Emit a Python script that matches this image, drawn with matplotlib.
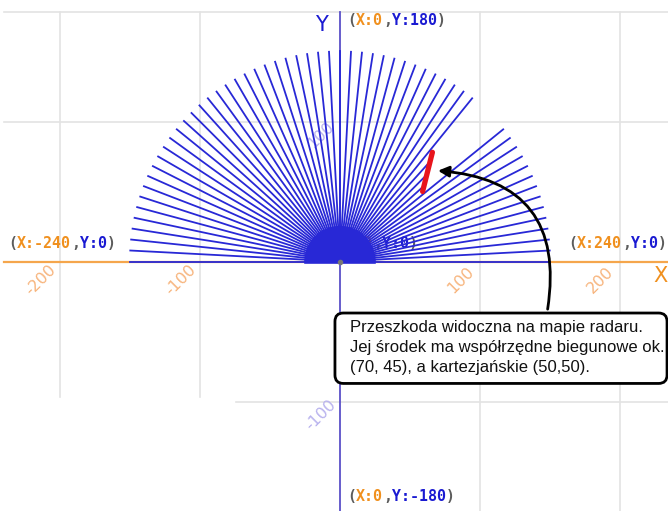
import numpy as np
import matplotlib
matplotlib.use('Agg')
import matplotlib.pyplot as plt
from matplotlib.patches import FancyBboxPatch, FancyArrowPatch
from matplotlib.offsetbox import TextArea, HPacker, AnnotationBbox

# radar scan: one ray every 3 degrees, full range 150, some rays stop on the obstacle
scan_angles = list(range(0, 181, 3))
max_range = 150
blocked = {42: 81, 45: 88, 48: 97}  # angle -> distance to obstacle

# obstacle (red stroke), stage units
obstacle_x = [59, 66]
obstacle_y = [50, 78]

x_ticks = [-200, -100, 100, 200]
y_ticks = [-100, 100]

# corner labels of the stage: (x value, y value)
corner_pts = [(0, 180), (-240, 0), (240, 0), (0, -180), (0, 0)]
corner_pos = [(5, 172), (-237, 13), (163, 13), (5, -168), (-2, 13)]

callout = ['Przeszkoda widoczna na mapie radaru.',
	'Jej środek ma współrzędne biegunowe ok.',
	'(70, 45), a kartezjańskie (50,50).']

ORANGE = '#f0901e'
BLUE = '#1a1ad2'
GREY = '#5c5c5c'
GRID = '#e3e3e3'
RAY = '#2828d6'

fig = plt.figure(figsize=(6.68, 5.11), dpi=100)
ax = fig.add_axes([0, 0, 1, 1])
# 1.4 px per stage unit, origin at pixel (340, 261.5)
ax.set_xlim(-340 / 1.4, 328 / 1.4)
ax.set_ylim(-249.5 / 1.4, 261.5 / 1.4)
ax.axis('off')

# grid (bottom-left part is blanked in the original)
ax.plot([-240, 240], [178, 178], color=GRID, lw=1.2, zorder=0)
ax.plot([-240, 240], [100, 100], color=GRID, lw=1.2, zorder=0)
ax.plot([-74, 240], [-100, -100], color=GRID, lw=1.2, zorder=0)
for gx in x_ticks:
	bottom = -97 if gx < 0 else -180
	ax.plot([gx, gx], [178, bottom], color=GRID, lw=1.2, zorder=0)

# tick labels, rotated
for gx in x_ticks:
	ax.text(gx - 14, -13, str(gx), color='#f7b47c', fontsize=11.5, rotation=45,
		ha='center', va='center', zorder=1)
for gy in y_ticks:
	ax.text(-14, gy - 10, str(gy), color='#b8b2ee', fontsize=11.5, rotation=45,
		ha='center', va='center', zorder=1)

# axes
ax.plot([-240, 240], [0, 0], color='#f5a64c', lw=1.6, zorder=2)
ax.plot([0, 0], [178, -180], color='#5a50c8', lw=1.3, zorder=2)
ax.text(-13, 169, 'Y', color=BLUE, fontsize=15, ha='center', va='center')
ax.text(229, -10, 'X', color=ORANGE, fontsize=15, ha='center', va='center')


def coord_label(val, pos, z=6):
	sx, sy = val
	parts = [('(', GREY), ('X:' + str(sx), ORANGE), (',', GREY), ('Y:' + str(sy), BLUE), (')', GREY)]
	areas = [TextArea(t, textprops=dict(color=c, family='DejaVu Sans Mono', weight='bold', size=10.8))
		for t, c in parts]
	box = HPacker(children=areas, pad=0, sep=0, align='baseline')
	ab = AnnotationBbox(box, pos, xycoords='data', box_alignment=(0, 0.5), frameon=False, pad=0)
	ab.set_zorder(z)
	ax.add_artist(ab)


for val, pos in zip(corner_pts, corner_pos):
	coord_label(val, pos, z=2 if val == (0, 0) else 6)

# radar rays; near the centre they merge into a solid blob
for a in scan_angles:
	r = blocked.get(a, max_range)
	t = np.radians(a)
	ax.plot([0, r * np.cos(t)], [0, r * np.sin(t)], color=RAY, lw=1.3, zorder=3)
	ax.plot([0, 24 * np.cos(t)], [0, 24 * np.sin(t)], color=RAY, lw=2.6, zorder=3)

ax.plot(0, 0, 'o', color='#777777', ms=3, zorder=4)

# obstacle
ax.plot(obstacle_x, obstacle_y, color='#e8141c', lw=3.8, solid_capstyle='round', zorder=5)

# callout box
box = FancyBboxPatch((-3.6, -87.1), 237.2, 50.3, boxstyle='round,pad=0,rounding_size=6',
	fc='white', ec='black', lw=2, zorder=7)
ax.add_patch(box)
ax.text(7.5, -41.5, '\n'.join(callout), family='Liberation Sans', fontsize=12,
	linespacing=1.42, ha='left', va='top', color='#111111', zorder=8)

arrow = FancyArrowPatch((148, -36), (68, 65), connectionstyle='arc3,rad=0.55',
	arrowstyle='-|>', mutation_scale=16, color='black', lw=2, zorder=6)
ax.add_patch(arrow)

fig.savefig('out.png', dpi=100)
